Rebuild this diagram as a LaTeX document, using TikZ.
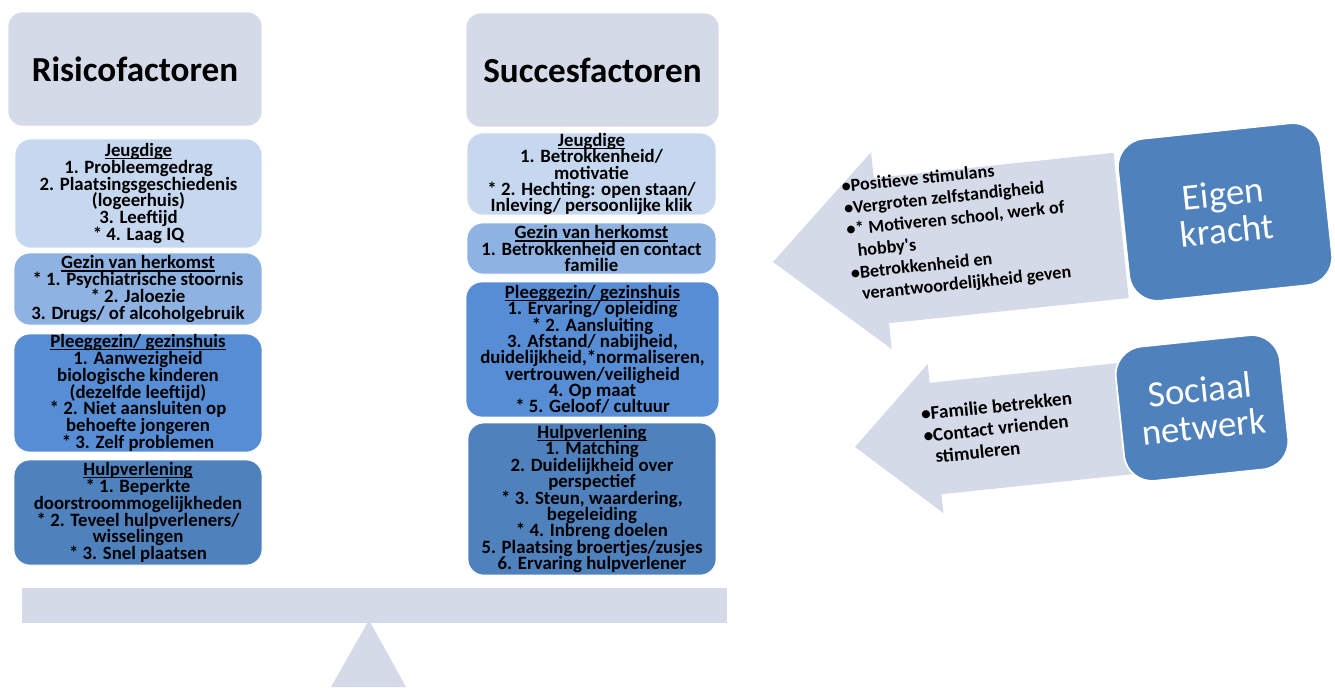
\documentclass[tikz,border=0pt]{standalone}
\usepackage{fontspec}
\setmainfont{Carlito}
\definecolor{kopgrijs}{RGB}{212,218,232}
\definecolor{jeugdblauw}{RGB}{198,216,240}
\definecolor{gezinblauw}{RGB}{142,178,225}
\definecolor{pleegblauw}{RGB}{87,141,212}
\definecolor{hulpblauw}{RGB}{79,129,189}
\newcommand\strakregel{\lineskiplimit=-20pt\relax\lineskip=0pt\relax}
\newcommand\onderstreept[1]{\setbox0\hbox{#1}\rlap{\rule[-1.6pt]{\wd0}{0.6pt}}\box0}
\tikzset{
  kop/.style={fill=kopgrijs, draw=white, rounded corners=8pt, minimum width=5.08cm, minimum height=2.28cm, font=\fontsize{20}{24}\selectfont\bfseries},
  factor/.style={draw=white, rounded corners=9pt, align=center, inner sep=0pt, font=\fontsize{10.7}{9.6}\selectfont\bfseries\strakregel},
  factorrechts/.style={factor, font=\fontsize{10.7}{9.3}\selectfont\bfseries\strakregel},
  kracht/.style={fill=hulpblauw, draw=white, line width=1pt, rounded corners=16pt, rotate=6, align=center, text=white, font=\fontsize{21}{21}\selectfont},
  punten/.style={anchor=north west, align=left, inner sep=0pt, transform shape, font=\fontsize{10.3}{12.4}\selectfont\bfseries},
}
\begin{document}
\begin{tikzpicture}[x=0.02cm,y=-0.02cm]
\useasboundingbox (0,0) rectangle (1335,687);

% kopjes
\node[kop] (risico) at (135,69) {Risicofactoren};
\node[kop, minimum width=5.06cm] (succes) at (592.5,70) {Succesfactoren};

% risicofactoren
\node[factor, fill=jeugdblauw, minimum width=4.94cm, minimum height=2.18cm] (rjeugd) at (138.5,193.5)
  {\onderstreept{Jeugdige}\\1. Probleemgedrag\\2. Plaatsingsgeschiedenis\\(logeerhuis)\\3. Leeftijd\\* 4. Laag IQ};
\node[factor, fill=gezinblauw, minimum width=4.96cm, minimum height=1.44cm] (rgezin) at (138,289)
  {\onderstreept{Gezin van herkomst}\\* 1. Psychiatrische stoornis\\* 2. Jaloezie\\3. Drugs/ of alcoholgebruik};
\node[factor, fill=pleegblauw, minimum width=4.96cm, minimum height=2.36cm] (rpleeg) at (138,393)
  {\onderstreept{Pleeggezin/ gezinshuis}\\1. Aanwezigheid\\biologische kinderen\\(dezelfde leeftijd)\\* 2. Niet aansluiten op\\behoefte jongeren\\* 3. Zelf problemen};
\node[factor, fill=hulpblauw, minimum width=4.96cm, minimum height=2.1cm] (rhulp) at (138,512.5)
  {\onderstreept{Hulpverlening}\\* 1. Beperkte\\doorstroommogelijkheden\\* 2. Teveel hulpverleners/\\wisselingen\\* 3. Snel plaatsen};

% succesfactoren
\node[factorrechts, fill=jeugdblauw, minimum width=4.98cm, minimum height=1.64cm] (sjeugd) at (591.5,174)
  {\onderstreept{Jeugdige}\\1. Betrokkenheid/\\motivatie\\* 2. Hechting: open staan/\\Inleving/ persoonlijke klik};
\node[factorrechts, fill=gezinblauw, minimum width=4.98cm, minimum height=1.02cm] (sgezin) at (591.5,248.5)
  {\onderstreept{Gezin van herkomst}\\1. Betrokkenheid en contact\\familie};
\node[factorrechts, fill=pleegblauw, minimum width=5.06cm, minimum height=2.7cm] (spleeg) at (592.5,349.5)
  {\onderstreept{Pleeggezin/ gezinshuis}\\1. Ervaring/ opleiding\\* 2. Aansluiting\\3. Afstand/ nabijheid,\\duidelijkheid,*normaliseren,\\vertrouwen/veiligheid\\4. Op maat\\* 5. Geloof/ cultuur};
\node[factorrechts, fill=hulpblauw, minimum width=4.96cm, minimum height=3.04cm] (shulp) at (592,499)
  {\onderstreept{Hulpverlening}\\1. Matching\\2. Duidelijkheid over\\perspectief\\* 3. Steun, waardering,\\begeleiding\\* 4. Inbreng doelen\\5. Plaatsing broertjes/zusjes\\6. Ervaring hulpverlener};

% weegschaal
\fill[kopgrijs] (369,620) -- (406,687) -- (331,687) -- cycle;
\fill[kopgrijs] (22,588) rectangle (727,623);

% pijl eigen kracht
\begin{scope}[shift={(773,262)}, rotate=6]
\fill[kopgrijs] (0,0) -- (109,-99) -- (109,-73) -- (350,-73) -- (350,73) -- (109,73) -- (109,99) -- cycle;
\node[punten] (eigenpunten) at (76,-75)
  {\textbullet Positieve stimulans\\\textbullet Vergroten zelfstandigheid\\\textbullet * Motiveren school, werk of\\\phantom{\textbullet}hobby\textquotesingle s\\\textbullet Betrokkenheid en\\\phantom{\textbullet}verantwoordelijkheid geven};
\end{scope}

% pijl sociaal netwerk
\begin{scope}[shift={(855,447)}, rotate=6]
\fill[kopgrijs] (0,0) -- (81,-75) -- (81,-56) -- (275,-56) -- (275,56) -- (81,56) -- (81,75) -- cycle;
\node[punten, font=\fontsize{10.9}{12.4}\selectfont\bfseries] (sociaalpunten) at (69,-33)
  {\textbullet Familie betrekken\\\textbullet Contact vrienden\\\phantom{\textbullet}stimuleren};
\end{scope}

\node[kracht, minimum width=4.08cm, minimum height=3.26cm] (eigen) at (1225,212) {Eigen\\kracht};
\node[kracht, minimum width=3.3cm, minimum height=2.7cm] (sociaal) at (1202,408) {Sociaal\\netwerk};
\end{tikzpicture}
\end{document}
